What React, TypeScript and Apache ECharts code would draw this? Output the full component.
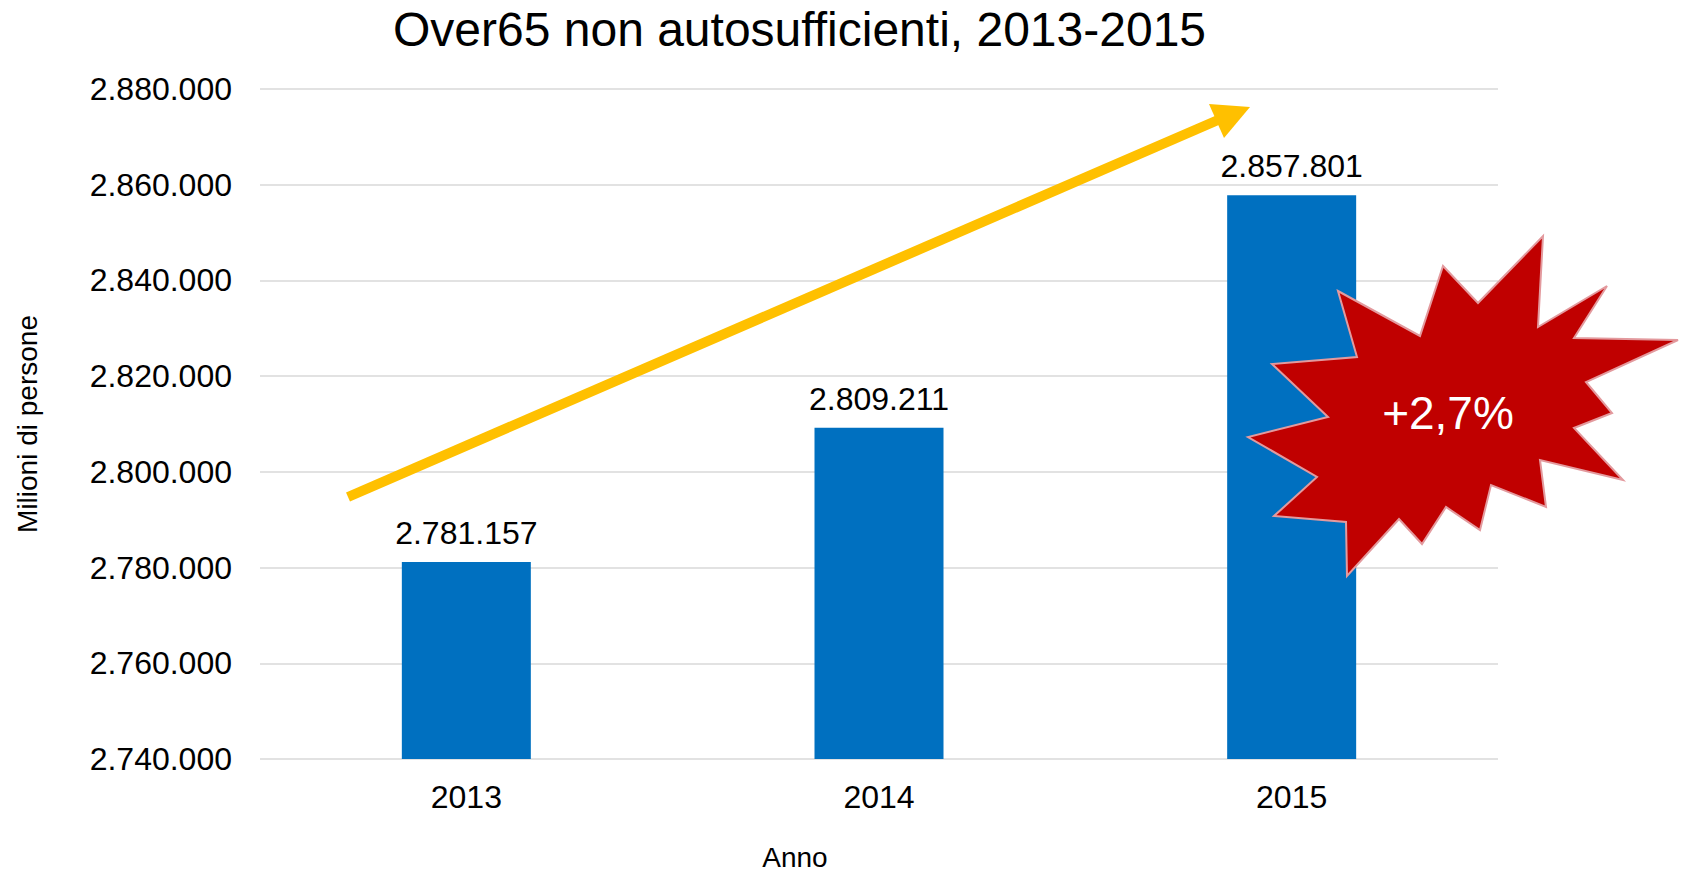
import React, { useEffect, useRef } from "react";
import * as echarts from "echarts";

const categories = ["2013", "2014", "2015"];
const values = [2781157, 2809211, 2857801];
const yMin = 2740000;
const yMax = 2880000;
const yStep = 20000;
const titleText = "Over65 non autosufficienti, 2013-2015";
const yName = "Milioni di persone";
const xName = "Anno";
const badgeText = "+2,7%";

const FONT = "'Liberation Sans', Arial, Helvetica, sans-serif";

const fmt = (v: number) => String(Math.round(v)).replace(/\B(?=(\d{3})+(?!\d))/g, ".");

const starPoints: number[][] = [
  [1338, 291], [1420, 336], [1443, 266], [1478, 303], [1543, 236], [1538, 327],
  [1607, 286], [1574, 338], [1678, 340], [1586, 382], [1612, 413], [1574, 428],
  [1623, 480], [1540, 460], [1546, 507], [1491, 485], [1480, 530], [1446, 507],
  [1422, 544], [1399, 519], [1347, 576], [1346, 522], [1274, 516], [1317, 477],
  [1248, 437], [1328, 417], [1272, 364], [1357, 357],
];

export default function App() {
  const ref = useRef<HTMLDivElement>(null);
  useEffect(() => {
    if (!ref.current) return;
    const chart = echarts.init(ref.current, undefined, { renderer: "svg" });
    chart.setOption({
      animation: false,
      backgroundColor: "#ffffff",
      textStyle: { fontFamily: FONT },
      title: {
        text: titleText,
        left: 393,
        top: 5,
        padding: 0,
        textStyle: { fontFamily: FONT, fontSize: 48, fontWeight: "normal", color: "#000000" },
      },
      grid: {
        left: 260,
        right: 183,
        top: 89,
        bottom: 112,
        containLabel: false,
        outerBoundsMode: "none",
      },
      xAxis: {
        type: "category",
        data: categories,
        name: xName,
        nameLocation: "middle",
        nameGap: 84,
        nameTextStyle: { fontFamily: FONT, fontSize: 28, color: "#000000", padding: [0, 168, 0, 0] },
        axisLine: { show: false },
        axisTick: { show: false },
        axisLabel: { fontFamily: FONT, fontSize: 32, color: "#000000", margin: 22 },
      },
      yAxis: {
        type: "value",
        min: yMin,
        max: yMax,
        interval: yStep,
        name: yName,
        nameLocation: "middle",
        nameGap: 219,
        nameTextStyle: { fontFamily: FONT, fontSize: 28, color: "#000000" },
        axisLine: { show: false },
        axisTick: { show: false },
        axisLabel: { fontFamily: FONT, fontSize: 32, color: "#000000", margin: 28, formatter: (v: number) => fmt(v) },
        splitLine: { lineStyle: { color: "#D9D9D9", width: 1.5 } },
      },
      series: [
        {
          type: "bar",
          data: values,
          barWidth: 129,
          itemStyle: { color: "#0070C0" },
          label: {
            show: true,
            position: "top",
            distance: 13,
            fontFamily: FONT,
            fontSize: 32,
            color: "#000000",
            formatter: (p: any) => fmt(p.value),
          },
        },
      ],
      graphic: [
        {
          type: "line",
          z: 100,
          shape: { x1: 348, y1: 497, x2: 1218, y2: 120 },
          style: { stroke: "#FFC000", lineWidth: 10, lineCap: "butt" },
        },
        {
          type: "polygon",
          z: 101,
          shape: { points: [[1209, 104], [1250, 107], [1224, 138]] },
          style: { fill: "#FFC000" },
        },
        {
          type: "polygon",
          z: 102,
          shape: { points: starPoints },
          style: { fill: "#C00000", stroke: "#E39A9E", lineWidth: 2, lineJoin: "miter" },
        },
        {
          type: "text",
          z: 103,
          x: 1448,
          y: 413,
          style: {
            text: badgeText,
            fill: "#ffffff",
            fontFamily: FONT,
            fontSize: 46,
            align: "center",
            verticalAlign: "middle",
          },
        },
      ],
    });
    return () => chart.dispose();
  }, []);
  return (
    <div
      ref={ref}
      style={{ position: "fixed", left: 0, top: 0, width: 1681, height: 871, background: "#fff" }}
    />
  );
}
